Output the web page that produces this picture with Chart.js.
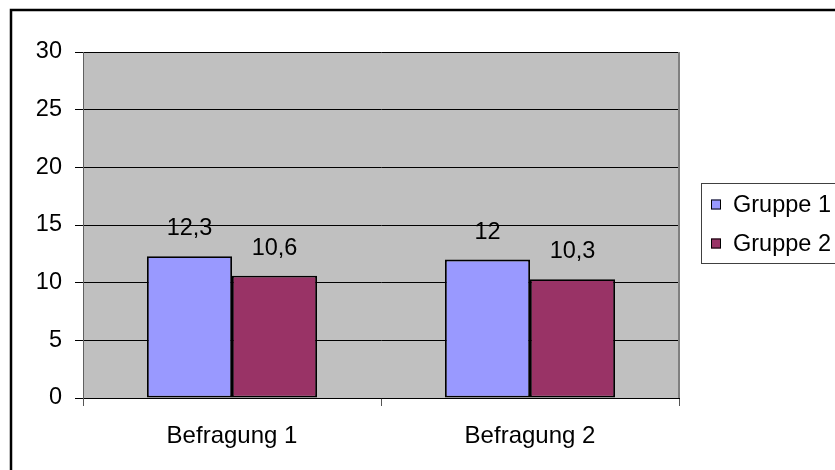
<!DOCTYPE html>
<html>
<head>
<meta charset="utf-8">
<script src="https://cdn.jsdelivr.net/npm/chart.js@4"></script>
<style>
  html, body { margin: 0; padding: 0; background: #ffffff; }
  #wrap { width: 835px; height: 470px; }
</style>
</head>
<body>
<div id="wrap"><canvas id="c" width="835" height="470"></canvas></div>
<script>
// Survey results: two groups compared across two survey rounds
const categories = ['Befragung 1', 'Befragung 2'];
const seriesNames = ['Gruppe 1', 'Gruppe 2'];
const gruppe1 = [12.3, 12];
const gruppe2 = [10.6, 10.3];
const yTicks = [0, 5, 10, 15, 20, 25, 30];

const FONT = '"Liberation Sans", Arial, sans-serif';
const colors = ['#9999FF', '#993366'];

const fmt = v => String(v).replace('.', ',');

// Outer frame, plot area fill and border
const framePlugin = {
  id: 'frame',
  beforeDraw(chart) {
    const { ctx, chartArea: a } = chart;
    ctx.save();
    ctx.fillStyle = '#ffffff';
    ctx.fillRect(0, 0, chart.width, chart.height);
    ctx.fillStyle = '#C0C0C0';
    ctx.fillRect(a.left, a.top, a.right - a.left, a.bottom - a.top);
    ctx.strokeStyle = '#000000';
    ctx.lineWidth = 2.5;
    ctx.strokeRect(11, 10, 1000, 1000);
    ctx.restore();
  },
  afterDraw(chart) {
    const { ctx, chartArea: a } = chart;
    ctx.save();
    ctx.strokeStyle = '#808080';
    ctx.lineWidth = 2;
    ctx.beginPath();
    ctx.moveTo(a.right, a.top);
    ctx.lineTo(a.right, a.bottom);
    ctx.stroke();
    ctx.restore();
  }
};

// Value labels above each bar
const valueLabels = {
  id: 'valueLabels',
  afterDatasetsDraw(chart) {
    const { ctx } = chart;
    ctx.save();
    ctx.font = '23.5px ' + FONT;
    ctx.fillStyle = '#000000';
    ctx.textAlign = 'center';
    ctx.textBaseline = 'alphabetic';
    chart.data.datasets.forEach((ds, i) => {
      chart.getDatasetMeta(i).data.forEach((el, j) => {
        ctx.fillText(fmt(ds.data[j]), el.x, el.y - 21);
      });
    });
    ctx.restore();
  }
};

// Boxed legend on the right
const boxLegend = {
  id: 'boxLegend',
  afterDraw(chart) {
    const { ctx } = chart;
    ctx.save();
    ctx.strokeStyle = '#404040';
    ctx.lineWidth = 1;
    ctx.strokeRect(701.5, 183.5, 200, 80);
    ctx.font = '23.5px ' + FONT;
    ctx.textAlign = 'left';
    ctx.textBaseline = 'middle';
    chart.data.datasets.forEach((ds, i) => {
      const cy = 204.5 + i * 39;
      ctx.fillStyle = ds.backgroundColor;
      ctx.fillRect(711, cy - 5, 10, 10);
      ctx.strokeStyle = '#000000';
      ctx.strokeRect(711.5, cy - 4.5, 9, 9);
      ctx.fillStyle = '#000000';
      ctx.fillText(ds.label, 733, cy + 1);
    });
    ctx.restore();
  }
};

new Chart(document.getElementById('c'), {
  type: 'bar',
  data: {
    labels: categories,
    datasets: [
      { label: seriesNames[0], data: gruppe1, backgroundColor: colors[0] },
      { label: seriesNames[1], data: gruppe2, backgroundColor: colors[1] }
    ]
  },
  options: {
    responsive: false,
    animation: false,
    devicePixelRatio: 1,
    layout: { padding: { top: 52, right: 156, left: 0, bottom: 0 } },
    datasets: {
      bar: {
        categoryPercentage: 0.5705,
        barPercentage: 1,
        borderColor: '#000000',
        borderWidth: 1.8,
        borderSkipped: false
      }
    },
    plugins: {
      legend: { display: false },
      tooltip: { enabled: false },
      title: { display: false }
    },
    scales: {
      x: {
        offset: true,
        grid: {
          offset: true,
          drawOnChartArea: false,
          color: '#555555',
          tickLength: 8
        },
        border: { color: '#000000', width: 1 },
        ticks: {
          color: '#000000',
          font: { family: FONT, size: 24 },
          padding: 16,
          maxRotation: 0
        },
        afterFit(scale) { scale.height = 72; }
      },
      y: {
        min: 0,
        max: 30,
        afterBuildTicks(scale) { scale.ticks = yTicks.map(v => ({ value: v })); },
        grid: { color: '#000000', lineWidth: 1, tickLength: 8 },
        border: { color: '#606060', width: 1 },
        ticks: {
          color: '#000000',
          font: { family: FONT, size: 23.5 },
          padding: 13
        },
        afterFit(scale) { scale.width = 83; }
      }
    }
  },
  plugins: [framePlugin, valueLabels, boxLegend]
});
</script>
</body>
</html>
